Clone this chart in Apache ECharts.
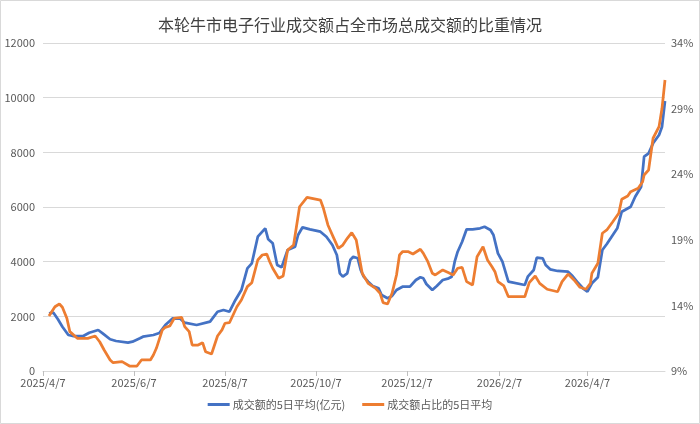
<!DOCTYPE html>
<html>
	<head>
		<meta charset="utf-8">
		<title>电子行业成交额占比</title>
	</head>
	<body style="margin:0;">
		<div id="main" style="width: 700px;height:424px;"></div>
	</body>
	<script src="https://cdn.jsdelivr.net/npm/echarts@6/dist/echarts.min.js"></script>
	<script type="text/javascript">
		'use strict'

		// 成交额的5日平均(亿元)
		var amtDates = ['2025-04-11','2025-04-14','2025-04-17','2025-04-20','2025-04-24','2025-04-27','2025-05-04','2025-05-08','2025-05-14','2025-05-17',
			'2025-05-22','2025-05-26','2025-06-03','2025-06-06','2025-06-11','2025-06-13','2025-06-20','2025-06-24','2025-06-28','2025-07-03',
			'2025-07-08','2025-07-11','2025-07-19','2025-07-28','2025-08-02','2025-08-06','2025-08-10','2025-08-14','2025-08-18','2025-08-22',
			'2025-08-25','2025-08-29','2025-09-03','2025-09-05','2025-09-08','2025-09-11','2025-09-14','2025-09-18','2025-09-23','2025-09-25',
			'2025-09-28','2025-10-03','2025-10-10','2025-10-14','2025-10-18','2025-10-21','2025-10-23','2025-10-25','2025-10-28','2025-10-30',
			'2025-11-01','2025-11-04','2025-11-06','2025-11-08','2025-11-11','2025-11-14','2025-11-18','2025-11-20','2025-11-24','2025-11-27',
			'2025-11-30','2025-12-04','2025-12-09','2025-12-13','2025-12-16','2025-12-18','2025-12-20','2025-12-24','2025-12-27','2025-12-31',
			'2026-01-04','2026-01-06','2026-01-08','2026-01-10','2026-01-13','2026-01-16','2026-01-20','2026-01-25','2026-01-28','2026-02-01',
			'2026-02-03','2026-02-06','2026-02-09','2026-02-13','2026-02-24','2026-02-26','2026-03-02','2026-03-04','2026-03-08','2026-03-10',
			'2026-03-13','2026-03-18','2026-03-25','2026-03-28','2026-03-31','2026-04-04','2026-04-07','2026-04-10','2026-04-14','2026-04-17',
			'2026-04-20','2026-04-24','2026-04-27','2026-04-30','2026-05-06','2026-05-09','2026-05-13','2026-05-15','2026-05-18','2026-05-21',
			'2026-05-25','2026-05-27','2026-05-29'];
		var amtValues = [2111,2133,1891,1621,1317,1280,1280,1401,1500,1379,
			1160,1098,1035,1072,1196,1255,1317,1390,1683,1928,
			1913,1767,1683,1804,2169,2232,2169,2598,2963,3757,
			3940,4913,5221,4818,4672,3878,3794,4427,4548,4976,
			5257,5184,5096,4913,4610,4244,3574,3450,3574,4061,
			4182,4123,3695,3450,3267,3110,3026,2780,2659,2744,
			2963,3084,3084,3329,3428,3391,3183,2963,3110,3329,
			3391,3450,3999,4365,4730,5184,5184,5221,5279,5158,
			4976,4306,3999,3267,3146,3450,3695,4145,4123,3878,
			3721,3659,3633,3476,3267,3026,2901,3208,3428,4427,
			4646,4976,5221,5828,6011,6377,6743,7840,7965,8330,
			8634,8938,9878];

		// 成交额占比的5日平均(%)
		var ratioDates = ['2025-04-11','2025-04-15','2025-04-18','2025-04-20','2025-04-23','2025-04-25','2025-04-30','2025-05-07','2025-05-12','2025-05-15',
			'2025-05-18','2025-05-22','2025-05-24','2025-05-30','2025-06-04','2025-06-09','2025-06-12','2025-06-18','2025-06-20','2025-06-22',
			'2025-06-26','2025-06-28','2025-07-01','2025-07-04','2025-07-09','2025-07-11','2025-07-14','2025-07-16','2025-07-20','2025-07-23',
			'2025-07-25','2025-07-29','2025-08-02','2025-08-05','2025-08-07','2025-08-10','2025-08-15','2025-08-18','2025-08-22','2025-08-25',
			'2025-08-29','2025-09-01','2025-09-04','2025-09-06','2025-09-08','2025-09-12','2025-09-15','2025-09-18','2025-09-22','2025-09-26',
			'2025-10-01','2025-10-10','2025-10-12','2025-10-15','2025-10-19','2025-10-22','2025-10-25','2025-10-28','2025-10-31','2025-11-03',
			'2025-11-07','2025-11-11','2025-11-16','2025-11-19','2025-11-21','2025-11-24','2025-11-27','2025-11-30','2025-12-02','2025-12-04',
			'2025-12-08','2025-12-11','2025-12-16','2025-12-18','2025-12-21','2025-12-24','2025-12-26','2025-12-31','2026-01-04','2026-01-07',
			'2026-01-10','2026-01-13','2026-01-16','2026-01-20','2026-01-23','2026-01-27','2026-01-30','2026-02-02','2026-02-04','2026-02-06',
			'2026-02-10','2026-02-13','2026-02-24','2026-02-27','2026-03-03','2026-03-06','2026-03-11','2026-03-18','2026-03-21','2026-03-25',
			'2026-03-29','2026-04-02','2026-04-06','2026-04-09','2026-04-10','2026-04-14','2026-04-17','2026-04-20','2026-04-24','2026-04-28',
			'2026-04-30','2026-05-04','2026-05-06','2026-05-11','2026-05-14','2026-05-15','2026-05-18','2026-05-21','2026-05-25','2026-05-27',
			'2026-05-29'];
		var ratioValues = [13.19,13.90,14.11,13.86,13.02,12.00,11.49,11.49,11.67,11.23,
			10.60,9.84,9.63,9.71,9.38,9.38,9.84,9.84,10.22,10.73,
			12.13,12.33,12.43,13.02,13.09,12.38,12.00,10.98,10.98,11.16,
			10.47,10.30,11.67,12.13,12.64,12.68,13.90,14.41,15.43,15.73,
			17.46,17.84,17.92,17.33,16.83,16.07,16.24,18.22,18.60,21.52,
			22.24,22.03,21.40,20.13,19.11,18.35,18.60,19.11,19.54,18.98,
			16.45,15.68,15.30,14.92,14.21,14.11,14.92,16.32,17.84,18.09,
			18.09,17.92,18.28,17.97,17.33,16.45,16.32,16.70,16.49,16.32,
			16.83,16.90,15.81,15.55,17.71,18.47,17.46,16.95,16.57,15.81,
			15.48,14.66,14.66,15.73,16.24,15.68,15.23,15.04,15.81,16.39,
			15.94,15.38,15.23,15.68,16.45,17.21,19.50,19.75,20.38,21.02,
			22.09,22.34,22.67,22.93,23.43,23.94,24.32,26.74,27.62,29.02,
			31.18];

		// 横轴刻度日期
		var tickDates = ['2025-04-07','2025-06-07','2025-08-07','2025-10-07','2025-12-07','2026-02-07','2026-04-07'];
		var startDate = '2025-04-07';
		var endDate = '2026-05-29';

		// 日期 -> 距起始日的天数
		var DAY = 24 * 3600 * 1000;
		function ts(s) {
			var p = s.split('-');
			return Date.UTC(+p[0], p[1] - 1, +p[2]);
		}
		function dayOf(s) {
			return Math.round((ts(s) - ts(startDate)) / DAY);
		}
		function labelOf(n) {
			var d = new Date(ts(startDate) + n * DAY);
			return d.getUTCFullYear() + '/' + (d.getUTCMonth() + 1) + '/' + d.getUTCDate();
		}
		function pairs(dates, vals) {
			return dates.map(function (d, i) { return [dayOf(d), vals[i]]; });
		}
		var tickDays = tickDates.map(dayOf);

		var font = '"Noto Sans CJK SC", "Noto Sans", sans-serif';
		var myChart = echarts.init(document.getElementById('main'));
		var option = {
			animation: false,
			backgroundColor: '#fff',
			textStyle: { fontFamily: font },
			title: {
				text: '本轮牛市电子行业成交额占全市场总成交额的比重情况',
				left: 'center',
				top: 12,
				textStyle: { fontSize: 16, fontWeight: 'normal', color: '#404040', fontFamily: font }
			},
			graphic: [{
				type: 'rect',
				shape: { x: 0.5, y: 0.5, width: 699, height: 423 },
				style: { fill: 'none', stroke: '#d9d9d9', lineWidth: 1 },
				silent: true
			}],
			legend: {
				bottom: 9,
				left: 'center',
				icon: 'rect',
				itemWidth: 22,
				itemHeight: 3,
				itemGap: 17,
				textStyle: { fontSize: 11, color: '#595959', fontFamily: font, padding: [0, 0, 0, -2] },
				data: ['成交额的5日平均(亿元)', '成交额占比的5日平均']
			},
			grid: { left: 43, right: 35, top: 43, bottom: 53 },
			xAxis: {
				type: 'value',
				min: 0,
				max: dayOf(endDate),
				axisLine: { lineStyle: { color: '#d9d9d9' } },
				axisTick: {
					show: true,
					length: 5,
					lineStyle: { color: '#bfbfbf' },
					customValues: tickDays
				},
				axisLabel: {
					color: '#595959',
					fontSize: 11,
					margin: 6,
					customValues: tickDays,
					formatter: function (v) { return labelOf(v); }
				},
				splitLine: { show: false }
			},
			yAxis: [{
				type: 'value',
				min: 0,
				max: 12000,
				interval: 2000,
				axisLine: { show: false },
				axisTick: { show: false },
				axisLabel: { color: '#595959', fontSize: 11, margin: 8, formatter: function (v) { return String(v); } },
				splitLine: { lineStyle: { color: '#d9d9d9' } }
			}, {
				type: 'value',
				min: 9,
				max: 34,
				interval: 5,
				axisLine: { show: false },
				axisTick: { show: false },
				axisLabel: { color: '#595959', fontSize: 11, margin: 6, formatter: '{value}%' },
				splitLine: { show: false }
			}],
			series: [{
				name: '成交额的5日平均(亿元)',
				type: 'line',
				yAxisIndex: 0,
				showSymbol: false,
				lineStyle: { color: '#4472C4', width: 2.75 },
				itemStyle: { color: '#4472C4' },
				data: pairs(amtDates, amtValues)
			}, {
				name: '成交额占比的5日平均',
				type: 'line',
				yAxisIndex: 1,
				showSymbol: false,
				lineStyle: { color: '#ED7D31', width: 2.75 },
				itemStyle: { color: '#ED7D31' },
				data: pairs(ratioDates, ratioValues)
			}]
		};
		myChart.setOption(option);
	</script>
</html>
